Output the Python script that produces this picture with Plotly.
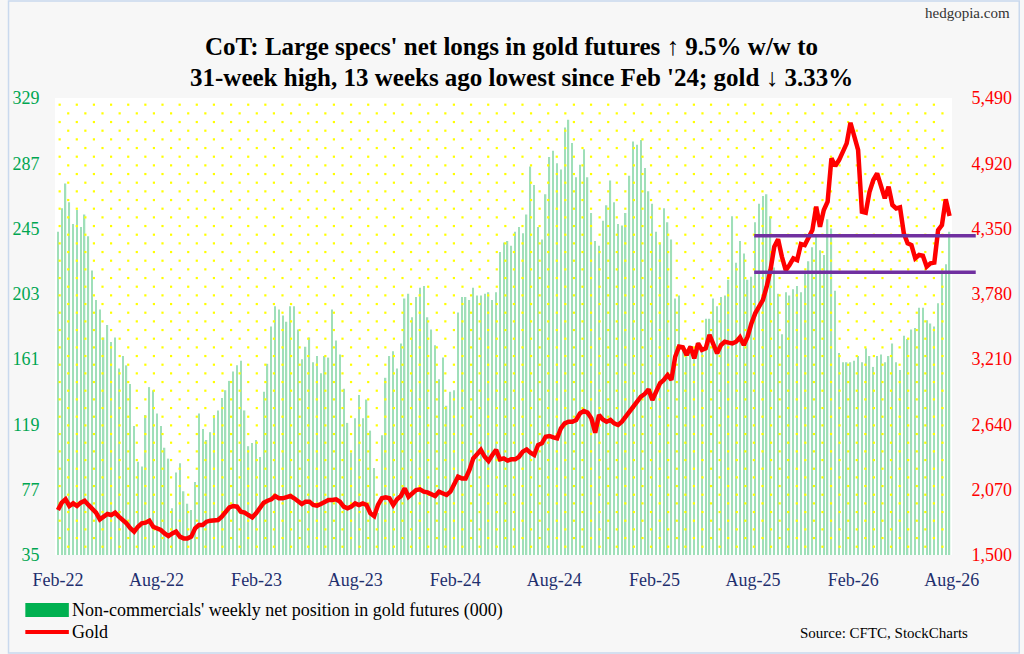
import numpy as np
import pandas as pd
import plotly.graph_objects as go

# ---------------- data ----------------
week_start = "2022-02-01"

net_longs = [
    243, 258, 274, 262, 248, 257, 246, 254, 240, 218,
    199, 193, 175, 183, 172, 175, 155, 163, 157, 145,
    118, 95, 92, 125, 143, 141, 126, 118, 104, 97,
    65, 88, 94, 76, 68, 64, 82, 126, 116, 109,
    114, 125, 128, 136, 141, 147, 153, 157, 160, 128,
    105, 107, 109, 98, 140, 158, 182, 195, 193, 189,
    185, 195, 195, 180, 161, 169, 175, 159, 163, 152,
    163, 162, 193, 173, 164, 142, 120, 101, 123, 138,
    123, 135, 115, 91, 62, 112, 149, 163, 166, 155,
    171, 200, 203, 188, 201, 207, 208, 188, 180, 170,
    148, 162, 131, 140, 141, 191, 201, 201, 199, 207,
    202, 202, 203, 204, 199, 204, 230, 236, 237, 234,
    243, 246, 242, 254, 285, 273, 246, 238, 267, 291,
    295, 287, 283, 310, 315, 300, 278, 286, 296, 278,
    255, 237, 234, 250, 260, 276, 262, 248, 247, 255,
    279, 301, 299, 302, 284, 269, 261, 243, 236, 258,
    249, 238, 200, 202, 168, 165, 170, 166, 172, 168,
    187, 187, 200, 195, 201, 202, 212, 253, 223, 237,
    229, 212, 214, 249, 261, 266, 267, 253, 220, 203,
    177, 204, 202, 206, 208, 204, 217, 224, 233, 240,
    231, 228, 251, 245, 205, 165, 159, 159, 159, 160,
    163, 159, 168, 163, 156, 163, 164, 159, 163, 171,
    159, 154, 176, 174, 180, 181, 194, 194, 186, 184,
    182, 197, 219, 222, 243,
]

gold = [
    1893, 1957, 1986, 1928, 1951, 1928, 1957, 1974, 1937, 1907,
    1870, 1811, 1840, 1858, 1849, 1870, 1835, 1811, 1776, 1733,
    1704, 1747, 1776, 1782, 1800, 1747, 1733, 1718, 1689, 1666,
    1689, 1704, 1660, 1645, 1645, 1660, 1733, 1762, 1762, 1791,
    1800, 1800, 1806, 1835, 1870, 1916, 1928, 1922, 1878, 1870,
    1849, 1829, 1864, 1907, 1957, 1974, 1986, 2015, 1995, 1995,
    2003, 2015, 1995, 1974, 1945, 1966, 1966, 1937, 1931, 1945,
    1966, 1980, 1980, 1986, 1966, 1922, 1907, 1922, 1951, 1936,
    1951, 1937, 1864, 1840, 1937, 1995, 2003, 1995, 1937, 1986,
    2015, 2082, 2009, 2033, 2067, 2073, 2053, 2047, 2030, 2015,
    2053, 2033, 2024, 2053, 2111, 2184, 2169, 2169, 2242, 2344,
    2379, 2417, 2358, 2321, 2373, 2417, 2335, 2344, 2324, 2335,
    2335, 2358, 2402, 2422, 2393, 2373, 2460, 2475, 2533, 2539,
    2527, 2519, 2606, 2649, 2664, 2664, 2679, 2737, 2757, 2743,
    2693, 2568, 2722, 2684, 2664, 2679, 2649, 2635, 2664, 2708,
    2760, 2795, 2839, 2882, 2906, 2946, 2853, 2926, 2999, 3028,
    3071, 3028, 3231, 3319, 3313, 3246, 3319, 3217, 3348, 3290,
    3304, 3421, 3348, 3261, 3333, 3362, 3354, 3348, 3362, 3400,
    3333, 3406, 3522, 3610, 3668, 3726, 3843, 3988, 4192, 4256,
    4104, 3988, 4032, 4090, 4075, 4215, 4206, 4279, 4337, 4541,
    4366, 4512, 4585, 4963, 4896, 4948, 5021, 5094, 5274, 5167,
    5036, 4497, 4489, 4672, 4774, 4832, 4730, 4614, 4716, 4556,
    4526, 4535, 4308, 4221, 4206, 4090, 4119, 4113, 4017, 4046,
    4052, 4337, 4381, 4605, 4459,
]

tick_dates = ["2022-02-01", "2022-08-01", "2023-02-01", "2023-08-01", "2024-02-01",
              "2024-08-01", "2025-02-01", "2025-08-01", "2026-02-01", "2026-08-01"]
tick_labels = ["Feb-22", "Aug-22", "Feb-23", "Aug-23", "Feb-24",
               "Aug-24", "Feb-25", "Aug-25", "Feb-26", "Aug-26"]
left_ticks = [35, 77, 119, 161, 203, 245, 287, 329]
right_ticks = [1500, 2070, 2640, 3210, 3780, 4350, 4920, 5490]
gold_levels = [3968, 4288]
title_lines = ["CoT: Large specs' net longs in gold futures ↑ 9.5% w/w to",
               "31-week high, 13 weeks ago lowest since Feb '24; gold ↓ 3.33%"]

# ---------------- geometry helpers ----------------
W, H = 1024, 654
L, R, T, B = 48, 955, 98, 555
dates = pd.date_range(week_start, periods=len(net_longs), freq="7D")
x0 = dates[0] - pd.Timedelta(days=5.4)
x1 = dates[-1] + pd.Timedelta(days=4.5)
span_s = (x1 - x0).total_seconds()


def px_to_date(px):
    return x0 + pd.to_timedelta((np.asarray(px) - L) / (R - L) * span_s, unit="s")


def py_to_left(py):
    return 35 + (B - np.asarray(py)) / (B - T) * (329 - 35)


def pxp(px):
    return (px - L) / (R - L)


def pyp(py):
    return (B - py) / (B - T)


# background dot pattern (decoration)
dx, dy = [], []
for i, ry in enumerate(np.arange(104.7, B - 1, 8.667)):
    xs = np.arange(52.7 + (i % 2) * 8.667, R - 1, 17.333)
    dx.extend(list(px_to_date(xs)))
    dy.extend([float(py_to_left(ry))] * len(xs))

FONT = "Liberation Serif"
fig = go.Figure()
fig.add_trace(go.Scatter(x=dx, y=dy, mode="markers", hoverinfo="skip",
                         marker=dict(symbol="square", size=2.2, color="#ffff00", line_width=0)))
fig.add_trace(go.Bar(x=dates, y=net_longs, width=0.36 * 7 * 86400000,
                     marker=dict(color="#9fdfb9", line_width=0),
                     name="Non-commercials' weekly net position in gold futures (000)"))
fig.add_trace(go.Scatter(x=dates, y=gold, yaxis="y2", mode="lines",
                         line=dict(color="#ff0000", width=4.5), name="Gold"))

shapes = []
for lv in gold_levels:
    shapes.append(dict(type="line", xref="paper", yref="y2", x0=pxp(755), x1=pxp(979),
                       y0=lv, y1=lv, line=dict(color="#7030a0", width=3.5)))
# legend swatches
shapes.append(dict(type="rect", xref="paper", yref="paper", x0=pxp(18), x1=pxp(62),
                   y0=pyp(617), y1=pyp(603), fillcolor="#00b050", line_width=0))
shapes.append(dict(type="line", xref="paper", yref="paper", x0=pxp(18), x1=pxp(62),
                   y0=pyp(632), y1=pyp(632), line=dict(color="#ff0000", width=4)))
# outer border
shapes.append(dict(type="rect", xref="paper", yref="paper", x0=pxp(1), x1=pxp(W - 1),
                   y0=pyp(H - 1), y1=pyp(1), line=dict(color="#c9d9ee", width=1.5)))

annotations = [
    dict(text="<b>" + title_lines[0] + "</b>", xref="paper", yref="paper", x=pxp(510), y=pyp(47),
         xanchor="center", yanchor="middle", showarrow=False,
         font=dict(family=FONT, size=25, color="#000000")),
    dict(text="<b>" + title_lines[1] + "</b>", xref="paper", yref="paper", x=pxp(520), y=pyp(77),
         xanchor="center", yanchor="middle", showarrow=False,
         font=dict(family=FONT, size=25, color="#000000")),
    dict(text="Non-commercials' weekly net position in gold futures (000)", xref="paper", yref="paper",
         x=pxp(63), y=pyp(610), xanchor="left", yanchor="middle", showarrow=False,
         font=dict(family=FONT, size=18, color="#000000")),
    dict(text="Gold", xref="paper", yref="paper", x=pxp(63), y=pyp(632), xanchor="left",
         yanchor="middle", showarrow=False, font=dict(family=FONT, size=18, color="#000000")),
    dict(text="Source: CFTC, StockCharts", xref="paper", yref="paper", x=pxp(973), y=pyp(633),
         xanchor="right", yanchor="middle", showarrow=False,
         font=dict(family=FONT, size=15, color="#000000")),
    dict(text="hedgopia.com", xref="paper", yref="paper", x=pxp(1016), y=pyp(13),
         xanchor="right", yanchor="middle", showarrow=False,
         font=dict(family=FONT, size=15, color="#333333")),
]

fig.update_layout(
    width=W, height=H,
    margin=dict(l=L, r=W - R, t=T, b=H - B, pad=0),
    paper_bgcolor="#f7f7f7", plot_bgcolor="#ffffff",
    showlegend=False,
    xaxis=dict(type="date", range=[x0, x1], tickvals=tick_dates, ticktext=tick_labels,
               tickfont=dict(family=FONT, size=18, color="#1f2f6e"),
               showgrid=False, zeroline=False, showline=False,
               ticks="outside", ticklen=8, tickcolor="rgba(0,0,0,0)"),
    yaxis=dict(range=[35, 329], tickvals=left_ticks,
               tickfont=dict(family=FONT, size=18, color="#00a651"),
               showgrid=False, zeroline=False, showline=False,
               ticks="outside", ticklen=11, tickcolor="rgba(0,0,0,0)"),
    yaxis2=dict(range=[1500, 5490], tickvals=right_ticks, tickformat=",d",
                overlaying="y", side="right",
                tickfont=dict(family=FONT, size=18, color="#ff0000"),
                showgrid=False, zeroline=False, showline=False,
                ticks="outside", ticklen=15, tickcolor="rgba(0,0,0,0)"),
    shapes=shapes,
    annotations=annotations,
)

fig.write_html("out.html", config={"displayModeBar": False},
               post_script="document.body.style.margin='0px';")
